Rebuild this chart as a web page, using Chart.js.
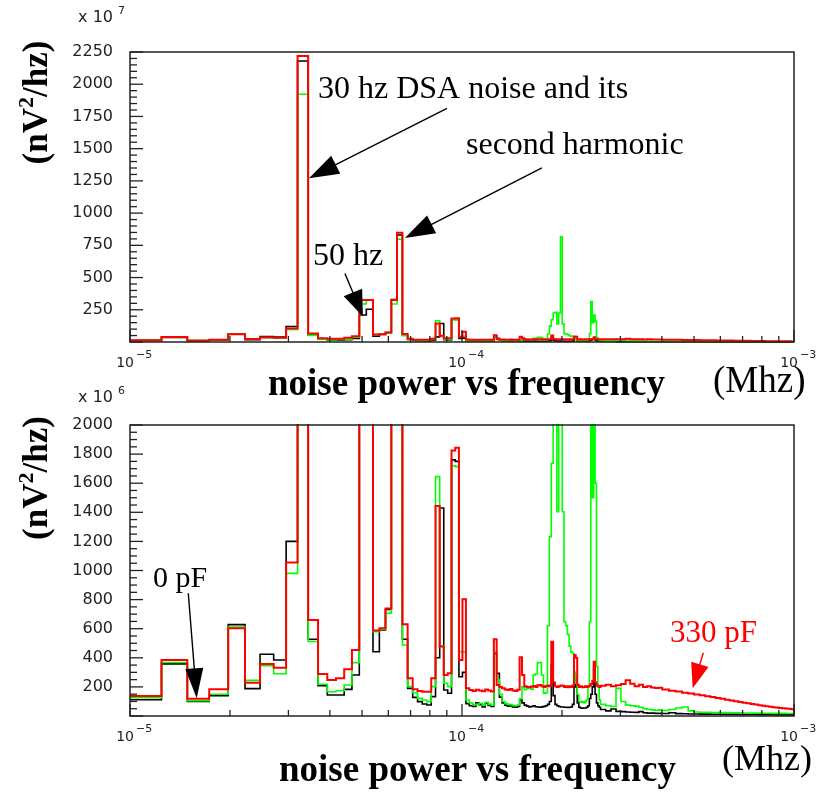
<!DOCTYPE html>
<html>
<head>
<meta charset="utf-8">
<script src="https://cdn.jsdelivr.net/npm/chart.js@4.4.0/dist/chart.umd.min.js"></script>
<style>
  html, body { margin: 0; padding: 0; background: #fff; }
  #wrap { position: relative; width: 820px; height: 793px; overflow: hidden; }
  canvas { position: absolute; left: 0; }
  #cTop { top: 0; }
  #cBot { top: 370px; }
</style>
</head>
<body>
<div id="wrap">
  <canvas id="cTop" width="820" height="410"></canvas>
  <canvas id="cBot" width="820" height="423"></canvas>
</div>
<script>
/* ── Data ────────────────────────────────────────── */

// FFT bins: 2.441 Hz wide, first edge at 10 Hz (axis is in MHz)
const F0_HZ  = 10.0;
const BIN_HZ = 2.441;

// values in units of 1e6 nV^2/hz, one per fine bin
const fineBlack = [
  112, 358, 100, 140, 628, 188, 424, 385, 1200, 21800,
  527, 208, 144, 144, 183, 282, 2100, 2540, 442, 591,
  733, 3300, 8300, 527, 190, 128, 99, 82, 76, 133,
  400, 1430, 179, 156, 1760, 1750, 270, 300, 85, 70,
  65, 90, 78, 62, 88, 72, 66, 430, 293, 130,
  90, 75, 68, 70, 62, 60, 66, 110, 90, 75,
  68, 62, 65, 70, 64, 62, 60, 63, 66, 70,
  80, 100, 350, 140, 80, 70, 65, 62, 62, 60,
  60, 58, 60, 62, 80, 260, 200, 90, 60, 55,
  53, 55, 55, 60, 70, 120, 150, 200, 328, 150,
  90, 70, 60,
];
const fineGreen = [
  125, 368, 105, 150, 612, 245, 346, 290, 980, 19220,
  512, 218, 167, 174, 213, 367, 2950, 3250, 580, 596,
  706, 2950, 7970, 488, 202, 160, 121, 110, 99, 202,
  1645, 480, 225, 202, 1720, 1714, 442, 442, 110, 90,
  78, 80, 88, 75, 95, 82, 74, 440, 250, 150,
  100, 85, 80, 78, 72, 70, 76, 120, 200, 180,
  190, 200, 185, 282, 290, 367, 367, 282, 156, 160,
  620, 1233, 1737, 2250, 2300, 1404, 2250, 8170, 1404, 648,
  620, 560, 480, 440, 430, 300, 225, 150, 100, 95,
  100, 92, 99, 110, 200, 650, 3130, 1500, 2100, 1600,
  340, 200, 110,
];
const fineRed = [
  138, 385, 118, 183, 603, 229, 357, 332, 1055, 22190,
  660, 289, 247, 259, 321, 454, 3260, 3260, 587, 603,
  738, 3260, 8480, 630, 259, 183, 172, 167, 167, 259,
  1443, 477, 282, 293, 1824, 1844, 385, 802, 190, 178,
  172, 180, 176, 170, 182, 175, 168, 527, 213, 200,
  190, 182, 178, 185, 176, 172, 180, 403, 282, 205,
  200, 198, 203, 207, 200, 212, 213, 205, 200, 206,
  210, 205, 511, 230, 205, 200, 205, 210, 208, 200,
  205, 198, 205, 200, 210, 419, 400, 215, 200, 205,
  198, 200, 205, 200, 205, 210, 220, 240, 373, 230,
  210, 205, 200,
];

// above ~260 Hz the bins are sub-pixel wide: coarser bins
const tailEdgesHz = [
  261.4, 271, 281, 291, 301, 311, 321, 331, 341, 351, 361, 371, 381, 391, 401,
  420, 440, 460, 480, 500, 520, 540, 560, 580, 600, 620, 640, 660, 680, 700,
  720, 740, 760, 780, 800, 820, 840, 860, 880, 900, 920, 940, 960, 980, 1000,
];
const tailBlack = [
  45, 35, 48, 32, 30, 28, 26, 25, 30, 22, 20, 20, 18, 18, 17,
  22, 16, 15, 14, 14, 13, 13, 12, 12, 12, 11, 11, 11, 10, 10,
  10, 10, 10, 9, 9, 9, 9, 9, 8, 8, 8, 8, 8, 8,
];
const tailGreen = [
  80, 70, 65, 190, 100, 75, 70, 68, 60, 50, 45, 42, 40, 42, 38,
  45, 55, 62, 35, 28, 26, 25, 24, 24, 23, 23, 22, 22, 22, 21,
  21, 20, 20, 20, 19, 19, 19, 18, 18, 18, 18, 17, 17, 17,
];
const tailRed = [
  208, 215, 205, 212, 220, 245, 222, 205, 215, 200, 204, 196, 192, 195, 182,
  174, 168, 160, 155, 147, 143, 136, 131, 124, 119, 112, 107, 101, 97, 91,
  88, 83, 79, 74, 71, 67, 64, 60, 58, 55, 53, 51, 49, 46,
];

// axis labels
const topTicks = [250, 500, 750, 1000, 1250, 1500, 1750, 2000, 2250]; // x 10^7
const botTicks = [200, 400, 600, 800, 1000, 1200, 1400, 1600, 1800, 2000]; // x 10^6
const decades  = [-5, -4, -3];

/* ── Helpers ─────────────────────────────────────── */

const SERIF = '"Liberation Serif", "Times New Roman", serif';
const SANS  = '"DejaVu Sans", sans-serif';

function histPoints(fine, tail) {
  const pts = [{ x: F0_HZ * 1e-6, y: 0 }];
  fine.forEach((v, k) => pts.push({ x: (F0_HZ + k * BIN_HZ) * 1e-6, y: v }));
  tail.forEach((v, j) => pts.push({ x: tailEdgesHz[j] * 1e-6, y: v }));
  const xEnd = tailEdgesHz[tailEdgesHz.length - 1] * 1e-6;
  pts.push({ x: xEnd, y: tail[tail.length - 1] });
  pts.push({ x: xEnd, y: 0 });
  return pts;
}

function arrow(ctx, x0, y0, x1, y1, hl, hw, color) {
  const len = Math.hypot(x1 - x0, y1 - y0);
  const ux = (x1 - x0) / len, uy = (y1 - y0) / len;
  ctx.strokeStyle = color;
  ctx.fillStyle   = color;
  ctx.lineWidth   = 1.4;
  ctx.beginPath();
  ctx.moveTo(x0, y0);
  ctx.lineTo(x1 - ux * hl * 0.8, y1 - uy * hl * 0.8);
  ctx.stroke();
  ctx.beginPath();
  ctx.moveTo(x1, y1);
  ctx.lineTo(x1 - ux * hl - uy * hw, y1 - uy * hl + ux * hw);
  ctx.lineTo(x1 - ux * hl + uy * hw, y1 - uy * hl - ux * hw);
  ctx.closePath();
  ctx.fill();
}

// ROOT-like frame, ticks, labels and notes
const rootFrame = {
  id: 'rootFrame',
  afterDraw(chart, args, o) {
    const { ctx, chartArea: a, scales: { x, y } } = chart;
    const oy = o.offsetY;
    ctx.save();

    // frame
    ctx.strokeStyle = '#222';
    ctx.lineWidth = 1.5;
    ctx.strokeRect(a.left, a.top, a.right - a.left, a.bottom - a.top);

    // y ticks (inside)
    ctx.lineWidth = 1.3;
    const yTop = o.ticks[o.ticks.length - 1];
    for (let t = 0; t <= yTop + 1e-9; t += o.minorStep) {
      const py = y.getPixelForValue(t * o.unit);
      const major = Math.abs(t / o.ticks[0] - Math.round(t / o.ticks[0])) < 1e-6;
      ctx.beginPath();
      ctx.moveTo(a.left, py);
      ctx.lineTo(a.left + (major ? 13 : 7), py);
      ctx.stroke();
    }
    ctx.fillStyle = '#222';
    ctx.font = '16px ' + SANS;
    ctx.textAlign = 'right';
    ctx.textBaseline = 'middle';
    o.ticks.forEach(t => ctx.fillText(String(t), 113, y.getPixelForValue(t * o.unit)));

    // x log ticks (inside)
    decades.forEach((e, i) => {
      const base = Math.pow(10, e);
      const last = i === decades.length - 1 ? 1 : 9;
      for (let m = 1; m <= last; m++) {
        const px = x.getPixelForValue(m * base);
        ctx.beginPath();
        ctx.moveTo(px, a.bottom);
        ctx.lineTo(px, a.bottom - (m === 1 ? 12 : 6));
        ctx.stroke();
      }
      const px = x.getPixelForValue(base);
      ctx.textBaseline = 'middle';
      ctx.textAlign = 'right';
      ctx.font = '14px ' + SANS;
      ctx.fillText('10', px + 4, a.bottom + 21);
      ctx.textAlign = 'left';
      ctx.font = '11px ' + SANS;
      ctx.fillText('\u2212' + Math.abs(e), px + 6, a.bottom + 13);
    });

    // multiplier
    ctx.textAlign = 'right';
    ctx.font = '16px ' + SANS;
    ctx.fillText('x 10', 113, o.multY - oy);
    ctx.textAlign = 'left';
    ctx.font = '11px ' + SANS;
    ctx.fillText(o.exponent, 118, o.multY - 7 - oy);

    // y title, rotated
    ctx.save();
    ctx.translate(47, o.yTitleY - oy);
    ctx.rotate(-Math.PI / 2);
    ctx.fillStyle = '#000';
    ctx.textBaseline = 'alphabetic';
    ctx.textAlign = 'left';
    const big = 'bold 35px ' + SERIF, sup = 'bold 22px ' + SERIF;
    ctx.font = big; const w1 = ctx.measureText('(nV').width, w3 = ctx.measureText('/hz)').width;
    ctx.font = sup; const w2 = ctx.measureText('2').width;
    let cx = -(w1 + w2 + w3) / 2;
    ctx.font = big; ctx.fillText('(nV', cx, 0); cx += w1;
    ctx.font = sup; ctx.fillText('2', cx, -14); cx += w2;
    ctx.font = big; ctx.fillText('/hz)', cx, 0);
    ctx.restore();

    // x title and unit
    ctx.fillStyle = '#000';
    ctx.textBaseline = 'alphabetic';
    ctx.textAlign = 'center';
    ctx.font = 'bold 37px ' + SERIF;
    ctx.fillText('noise power vs frequency', o.titleX, o.titleY - oy);
    ctx.textAlign = 'left';
    ctx.font = o.mhzSize + 'px ' + SERIF;
    ctx.fillText('(Mhz)', o.mhzX, o.mhzY - oy);

    // notes
    o.notes.forEach(n => {
      ctx.fillStyle = n.color;
      ctx.font = n.size + 'px ' + SERIF;
      ctx.fillText(n.t, n.x, n.y - oy);
    });
    o.arrows.forEach(r => {
      const tx = x.getPixelForValue(r.f), ty = y.getPixelForValue(r.v);
      arrow(ctx, tx + r.dx, ty + r.dy, tx, ty, r.hl, r.hw, r.color);
    });

    ctx.restore();
  },
};

/* ── Charts ──────────────────────────────────────── */

function makePanel(id, p) {
  const ds = (label, fine, tail, color, width, order) => ({
    label,
    data:        histPoints(fine, tail),
    borderColor: color,
    borderWidth: width,
    pointRadius: 0,
    stepped:     'before',
    fill:        false,
    order,
    clip:        1,
  });
  return new Chart(document.getElementById(id), {
    type: 'line',
    data: {
      datasets: [
        ds('330 pF', fineRed,   tailRed,   '#ff0000', 2,   0),
        ds('green',  fineGreen, tailGreen, '#00ff00', 1.6, 1),
        ds('0 pF',   fineBlack, tailBlack, '#000000', 1.6, 2),
      ],
    },
    options: {
      responsive: false,
      animation:  false,
      layout: { padding: { left: 130, right: 26, top: p.areaTop, bottom: p.areaBottomPad } },
      scales: {
        x: { type: 'logarithmic', min: 1e-5, max: 1e-3, display: false },
        y: { type: 'linear', min: 0, max: p.yMax, display: false },
      },
      plugins: {
        legend:  { display: false },
        tooltip: { enabled: false },
        rootFrame: p,
      },
    },
    plugins: [rootFrame],
  });
}

makePanel('cTop', {
  offsetY: 0, areaTop: 52, areaBottomPad: 410 - 342,
  yMax: 22500, unit: 10, ticks: topTicks, minorStep: 50, exponent: '7', multY: 18,
  yTitleY: 102.5, titleX: 466.5, titleY: 395, mhzX: 713, mhzY: 392, mhzSize: 37,
  notes: [
    { t: '30 hz DSA noise and its', x: 318, y: 98,  size: 32, color: '#000' },
    { t: 'second harmonic',         x: 466, y: 154, size: 32, color: '#000' },
    { t: '50 hz',                   x: 313, y: 265, size: 32, color: '#000' },
  ],
  arrows: [
    { f: 3.46e-5, v: 12700, dx: 138,  dy: -70, hl: 30, hw: 10, color: '#000' },
    { f: 6.73e-5, v: 8070,  dx: 137,  dy: -70, hl: 30, hw: 10, color: '#000' },
    { f: 5.03e-5, v: 1980,  dx: -18,  dy: -43, hl: 26, hw: 10, color: '#000' },
  ],
});

makePanel('cBot', {
  offsetY: 370, areaTop: 425 - 370, areaBottomPad: 423 - (716 - 370),
  yMax: 2000, unit: 1, ticks: botTicks, minorStep: 50, exponent: '6', multY: 398,
  yTitleY: 478, titleX: 477.5, titleY: 781, mhzX: 722, mhzY: 770, mhzSize: 36,
  notes: [
    { t: '0 pF',   x: 153, y: 587, size: 30, color: '#000' },
    { t: '330 pF', x: 670, y: 642, size: 31, color: '#ff0000' },
  ],
  arrows: [
    { f: 1.588e-5, v: 122, dx: -8.4, dy: -105,  hl: 30, hw: 9, color: '#000' },
    { f: 4.953e-4, v: 190, dx: 10.6, dy: -35.6, hl: 25, hw: 9, color: '#ff0000' },
  ],
});
</script>
</body>
</html>
